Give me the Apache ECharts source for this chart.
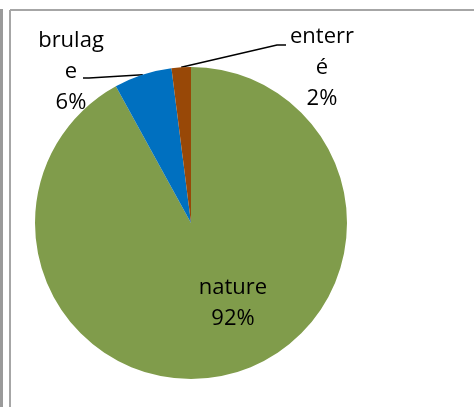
<!DOCTYPE html>
<html lang="fr">
<head>
    <meta charset="UTF-8">
    <title>Pie</title>
    <script src="https://cdn.jsdelivr.net/npm/echarts@6/dist/echarts.min.js"></script>
    <style>
        html, body { margin: 0; padding: 0; background: #fff; }
    </style>
</head>
<body>
<div id="main" style="width: 474px;height:407px;"></div>
<script type="text/javascript">
// data
const categories = ['nature', 'brulage', 'enterré'];
const values = [92, 6, 2];
const colors = ['#809C4B', '#0070C0', '#984807'];

// where each label sits (centre of text block)
const labelPos = [[233, 303], [71, 72], [322, 68]];

let myChart = echarts.init(document.getElementById("main"));

let pieData = categories.map(function (name, i) {
    return {
        name: name,
        value: values[i],
        itemStyle: { color: colors[i] },
        label: { position: i === 0 ? 'inside' : 'outside' },
        labelLine: { show: i !== 0 }
    };
});

let option = {
    animation: false,
    graphic: [
        // left strip + frame of the chart area
        { type: 'rect', shape: { x: 0, y: 9, width: 3, height: 398 }, style: { fill: '#9a9a9a' } },
        { type: 'line', shape: { x1: 10, y1: 10, x2: 10, y2: 407 }, style: { stroke: '#a6a6a6', lineWidth: 2 } },
        { type: 'line', shape: { x1: 10, y1: 10, x2: 474, y2: 10 }, style: { stroke: '#a6a6a6', lineWidth: 2 } }
    ],
    series: [{
        type: 'pie',
        center: [191, 223],
        radius: 156,
        startAngle: 90,
        clockwise: true,
        itemStyle: { borderWidth: 0 },
        emphasis: { disabled: true },
        label: {
            show: true,
            color: '#000',
            fontFamily: 'Open Sans',
            fontSize: 22,
            lineHeight: 31,
            width: 70,
            overflow: 'breakAll',
            align: 'center',
            formatter: function (p) {
                return p.name + '\n' + Math.round(p.percent) + '%';
            }
        },
        labelLine: {
            show: true,
            lineStyle: { color: '#000', width: 1.5 }
        },
        labelLayout: function (params) {
            let pos = labelPos[params.dataIndex];
            let out = { x: pos[0], y: pos[1], align: 'center', verticalAlign: 'middle' };
            let pts = params.labelLinePoints;
            if (params.dataIndex === 1 && pts) {
                out.labelLinePoints = [pts[0], [pos[0] + 18, pos[1] + 6], [pos[0] + 12, pos[1] + 6]];
            } else if (params.dataIndex === 2 && pts) {
                out.labelLinePoints = [pts[0], [pos[0] - 45, pos[1] - 23], [pos[0] - 36, pos[1] - 23]];
            }
            return out;
        },
        data: pieData
    }]
};
myChart.setOption(option);
</script>
</body>
</html>
